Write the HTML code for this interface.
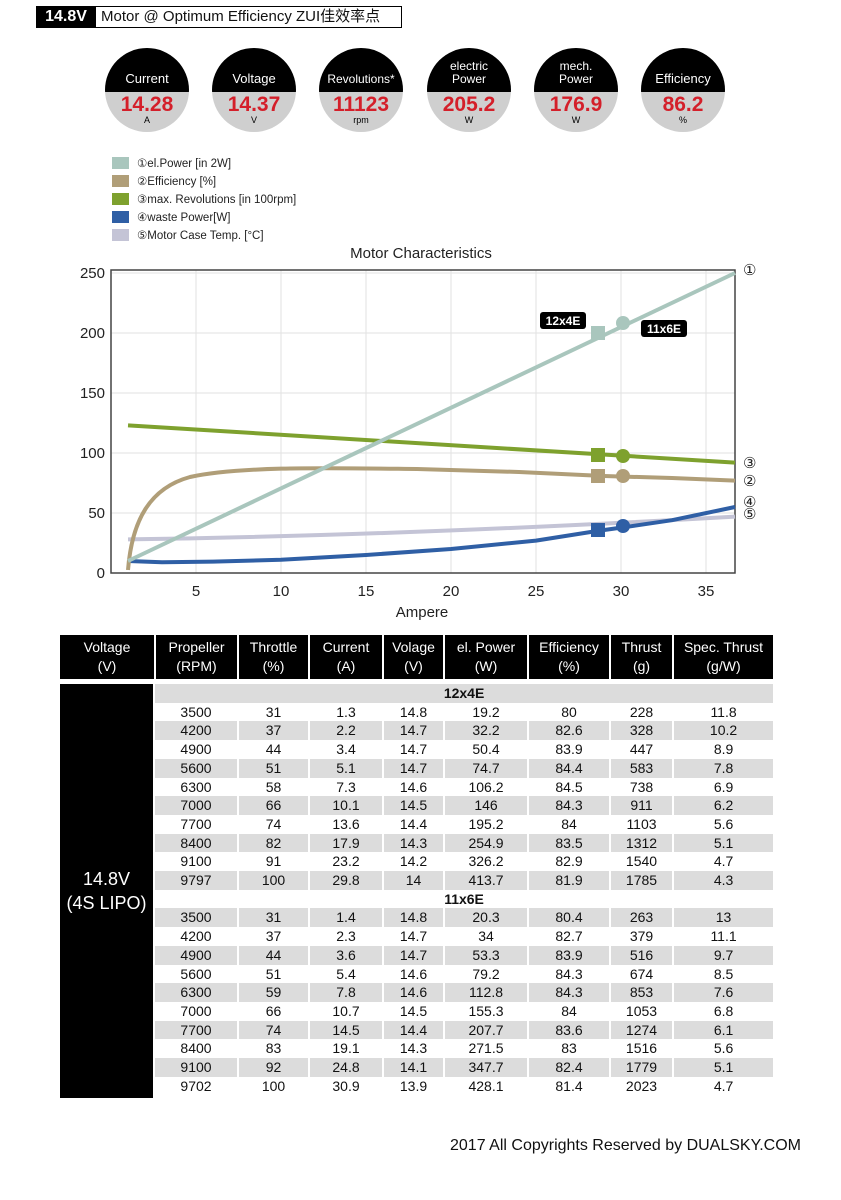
<!DOCTYPE html>
<html><head><meta charset="utf-8"><style>
body{margin:0;background:#fff;width:841px;height:1200px;position:relative;overflow:hidden;font-family:"Liberation Sans","Noto Sans CJK SC",sans-serif;}
.a{position:absolute}
table{border-collapse:collapse;table-layout:fixed;font-size:14px;color:#111}
td{text-align:center;padding:0;height:18.7px;line-height:18.7px;border-right:2px solid #fff;white-space:nowrap}
tr.g td{background:#dcdcdc}
.hd td{background:#000;color:#fff;height:44px;line-height:19px;font-size:14px;border-right:2px solid #fff}
</style></head><body>
<div class="a" style="left:36px;top:6px;width:364px;height:20px;border:1px solid #000;"></div>
<div class="a" style="left:36px;top:6px;width:60px;height:22px;background:#000;color:#fff;font-weight:bold;font-size:16px;line-height:22px;text-align:center">14.8V</div>
<div class="a" style="left:101px;top:6px;font-size:15px;line-height:22px;color:#111">Motor @ Optimum Efficiency ZUI佳效率点</div>

<svg class="a" style="left:0;top:0" width="841" height="1200" xmlns="http://www.w3.org/2000/svg" font-family="Liberation Sans, sans-serif">
<defs><clipPath id="c"><circle r="42"/></clipPath></defs>
<g font-size="13">
<g transform="translate(147,90)"><g clip-path="url(#c)"><rect x="-42" y="-42" width="84" height="44" fill="#000"/><rect x="-42" y="2" width="84" height="40" fill="#cfcfcf"/></g><text y="-7" fill="#fff" text-anchor="middle">Current</text><text y="21" fill="#d41f2a" font-size="21" font-weight="bold" text-anchor="middle">14.28</text><text y="33" font-size="9" text-anchor="middle">A</text></g>
<g transform="translate(254,90)"><g clip-path="url(#c)"><rect x="-42" y="-42" width="84" height="44" fill="#000"/><rect x="-42" y="2" width="84" height="40" fill="#cfcfcf"/></g><text y="-7" fill="#fff" text-anchor="middle">Voltage</text><text y="21" fill="#d41f2a" font-size="21" font-weight="bold" text-anchor="middle">14.37</text><text y="33" font-size="9" text-anchor="middle">V</text></g>
<g transform="translate(361,90)"><g clip-path="url(#c)"><rect x="-42" y="-42" width="84" height="44" fill="#000"/><rect x="-42" y="2" width="84" height="40" fill="#cfcfcf"/></g><text y="-7" fill="#fff" font-size="12" text-anchor="middle">Revolutions*</text><text y="21" fill="#d41f2a" font-size="21" font-weight="bold" text-anchor="middle">11123</text><text y="33" font-size="9" text-anchor="middle">rpm</text></g>
<g transform="translate(469,90)"><g clip-path="url(#c)"><rect x="-42" y="-42" width="84" height="44" fill="#000"/><rect x="-42" y="2" width="84" height="40" fill="#cfcfcf"/></g><text y="-20" fill="#fff" font-size="12" text-anchor="middle">electric</text><text y="-7" fill="#fff" font-size="12" text-anchor="middle">Power</text><text y="21" fill="#d41f2a" font-size="21" font-weight="bold" text-anchor="middle">205.2</text><text y="33" font-size="9" text-anchor="middle">W</text></g>
<g transform="translate(576,90)"><g clip-path="url(#c)"><rect x="-42" y="-42" width="84" height="44" fill="#000"/><rect x="-42" y="2" width="84" height="40" fill="#cfcfcf"/></g><text y="-20" fill="#fff" font-size="12" text-anchor="middle">mech.</text><text y="-7" fill="#fff" font-size="12" text-anchor="middle">Power</text><text y="21" fill="#d41f2a" font-size="21" font-weight="bold" text-anchor="middle">176.9</text><text y="33" font-size="9" text-anchor="middle">W</text></g>
<g transform="translate(683,90)"><g clip-path="url(#c)"><rect x="-42" y="-42" width="84" height="44" fill="#000"/><rect x="-42" y="2" width="84" height="40" fill="#cfcfcf"/></g><text y="-7" fill="#fff" text-anchor="middle">Efficiency</text><text y="21" fill="#d41f2a" font-size="21" font-weight="bold" text-anchor="middle">86.2</text><text y="33" font-size="9" text-anchor="middle">%</text></g>
</g>
<g font-size="11.5" fill="#222">
<rect x="112" y="157" width="17" height="12" fill="#a9c6bd"/><text x="137" y="167">①el.Power [in 2W]</text>
<rect x="112" y="175" width="17" height="12" fill="#b09e78"/><text x="137" y="185">②Efficiency [%]</text>
<rect x="112" y="193" width="17" height="12" fill="#7ea12e"/><text x="137" y="203">③max. Revolutions [in 100rpm]</text>
<rect x="112" y="211" width="17" height="12" fill="#2f5fa5"/><text x="137" y="221">④waste Power[W]</text>
<rect x="112" y="229" width="17" height="12" fill="#c4c4d6"/><text x="137" y="239">⑤Motor Case Temp. [°C]</text>
</g>
<text x="421" y="258" font-size="15" text-anchor="middle" fill="#222">Motor Characteristics</text>
<g stroke="#e2e2e2" stroke-width="1">
<line x1="196" y1="270" x2="196" y2="573"/><line x1="281" y1="270" x2="281" y2="573"/><line x1="366" y1="270" x2="366" y2="573"/><line x1="451" y1="270" x2="451" y2="573"/><line x1="536" y1="270" x2="536" y2="573"/><line x1="621" y1="270" x2="621" y2="573"/><line x1="706" y1="270" x2="706" y2="573"/>
<line x1="111" y1="513" x2="735" y2="513"/><line x1="111" y1="453" x2="735" y2="453"/><line x1="111" y1="393" x2="735" y2="393"/><line x1="111" y1="333" x2="735" y2="333"/><line x1="111" y1="273" x2="735" y2="273"/>
</g>
<rect x="111" y="270" width="624" height="303" fill="none" stroke="#444" stroke-width="1.5"/>
<g font-size="15" fill="#222" text-anchor="end">
<text x="105" y="578">0</text><text x="105" y="518">50</text><text x="105" y="458">100</text><text x="105" y="398">150</text><text x="105" y="338">200</text><text x="105" y="278">250</text>
</g>
<g font-size="15" fill="#222" text-anchor="middle">
<text x="196" y="596">5</text><text x="281" y="596">10</text><text x="366" y="596">15</text><text x="451" y="596">20</text><text x="536" y="596">25</text><text x="621" y="596">30</text><text x="706" y="596">35</text>
<text x="422" y="617">Ampere</text>
</g>
<g fill="none" stroke-width="4" stroke-linejoin="round">
<path d="M128,539.4 C300,537 500,530 735,516.6" stroke="#c4c4d6"/>
<polyline points="128,561 162,562.2 213,561.6 281,559.8 366,555 451,549 536,540.6 597,531 623,527.4 672,520.2 735,507" stroke="#2f5fa5"/>
<path d="M128,570 C132,520 150,488 190,477 C240,466 330,468 417,469 L519,472 L604,476 L672,478 L735,480.6" stroke="#b09e78"/>
<line x1="128" y1="425.4" x2="735" y2="462.6" stroke="#7ea12e"/>
<line x1="128" y1="561" x2="735" y2="273" stroke="#a9c6bd"/>
</g>
<rect x="591" y="326" width="14" height="14" fill="#a9c6bd"/><circle cx="623" cy="323" r="7" fill="#a9c6bd"/>
<rect x="591" y="448" width="14" height="14" fill="#7ea12e"/><circle cx="623" cy="456" r="7" fill="#7ea12e"/>
<rect x="591" y="469" width="14" height="14" fill="#b09e78"/><circle cx="623" cy="476" r="7" fill="#b09e78"/>
<rect x="591" y="523" width="14" height="14" fill="#2f5fa5"/><circle cx="623" cy="526" r="7" fill="#2f5fa5"/>
<rect x="540" y="312" width="46" height="17" rx="3" fill="#000"/><text x="563" y="325" fill="#fff" font-size="12" font-weight="bold" text-anchor="middle">12x4E</text>
<rect x="641" y="320" width="46" height="17" rx="3" fill="#000"/><text x="664" y="333" fill="#fff" font-size="12" font-weight="bold" text-anchor="middle">11x6E</text>
<g font-size="15" fill="#222">
<text x="743" y="275">①</text><text x="743" y="468">③</text><text x="743" y="486">②</text><text x="743" y="507">④</text><text x="743" y="519">⑤</text>
</g>
</svg>

<table class="a" style="left:60px;top:635px;width:714px">
<colgroup><col style="width:95px"><col style="width:83px"><col style="width:71px"><col style="width:74px"><col style="width:61px"><col style="width:84px"><col style="width:82px"><col style="width:63px"><col style="width:101px"></colgroup>
<tr class="hd"><td>Voltage<br>(V)</td><td>Propeller<br>(RPM)</td><td>Throttle<br>(%)</td><td>Current<br>(A)</td><td>Volage<br>(V)</td><td>el. Power<br>(W)</td><td>Efficiency<br>(%)</td><td>Thrust<br>(g)</td><td>Spec. Thrust<br>(g/W)</td></tr>
</table>
<div class="a" style="left:60px;top:684px;width:93px;height:414px;background:#000;color:#fff;font-size:18px;line-height:24px;text-align:center;display:flex;align-items:center;justify-content:center"><div>14.8V<br>(4S LIPO)</div></div>
<table class="a" style="left:155px;top:684px;width:619px">
<colgroup><col style="width:83px"><col style="width:71px"><col style="width:74px"><col style="width:61px"><col style="width:84px"><col style="width:82px"><col style="width:63px"><col style="width:101px"></colgroup>
<tr class="g"><td colspan="8" style="font-weight:bold">12x4E</td></tr>
<tr><td>3500</td><td>31</td><td>1.3</td><td>14.8</td><td>19.2</td><td>80</td><td>228</td><td>11.8</td></tr>
<tr class="g"><td>4200</td><td>37</td><td>2.2</td><td>14.7</td><td>32.2</td><td>82.6</td><td>328</td><td>10.2</td></tr>
<tr><td>4900</td><td>44</td><td>3.4</td><td>14.7</td><td>50.4</td><td>83.9</td><td>447</td><td>8.9</td></tr>
<tr class="g"><td>5600</td><td>51</td><td>5.1</td><td>14.7</td><td>74.7</td><td>84.4</td><td>583</td><td>7.8</td></tr>
<tr><td>6300</td><td>58</td><td>7.3</td><td>14.6</td><td>106.2</td><td>84.5</td><td>738</td><td>6.9</td></tr>
<tr class="g"><td>7000</td><td>66</td><td>10.1</td><td>14.5</td><td>146</td><td>84.3</td><td>911</td><td>6.2</td></tr>
<tr><td>7700</td><td>74</td><td>13.6</td><td>14.4</td><td>195.2</td><td>84</td><td>1103</td><td>5.6</td></tr>
<tr class="g"><td>8400</td><td>82</td><td>17.9</td><td>14.3</td><td>254.9</td><td>83.5</td><td>1312</td><td>5.1</td></tr>
<tr><td>9100</td><td>91</td><td>23.2</td><td>14.2</td><td>326.2</td><td>82.9</td><td>1540</td><td>4.7</td></tr>
<tr class="g"><td>9797</td><td>100</td><td>29.8</td><td>14</td><td>413.7</td><td>81.9</td><td>1785</td><td>4.3</td></tr>
<tr><td colspan="8" style="font-weight:bold">11x6E</td></tr>
<tr class="g"><td>3500</td><td>31</td><td>1.4</td><td>14.8</td><td>20.3</td><td>80.4</td><td>263</td><td>13</td></tr>
<tr><td>4200</td><td>37</td><td>2.3</td><td>14.7</td><td>34</td><td>82.7</td><td>379</td><td>11.1</td></tr>
<tr class="g"><td>4900</td><td>44</td><td>3.6</td><td>14.7</td><td>53.3</td><td>83.9</td><td>516</td><td>9.7</td></tr>
<tr><td>5600</td><td>51</td><td>5.4</td><td>14.6</td><td>79.2</td><td>84.3</td><td>674</td><td>8.5</td></tr>
<tr class="g"><td>6300</td><td>59</td><td>7.8</td><td>14.6</td><td>112.8</td><td>84.3</td><td>853</td><td>7.6</td></tr>
<tr><td>7000</td><td>66</td><td>10.7</td><td>14.5</td><td>155.3</td><td>84</td><td>1053</td><td>6.8</td></tr>
<tr class="g"><td>7700</td><td>74</td><td>14.5</td><td>14.4</td><td>207.7</td><td>83.6</td><td>1274</td><td>6.1</td></tr>
<tr><td>8400</td><td>83</td><td>19.1</td><td>14.3</td><td>271.5</td><td>83</td><td>1516</td><td>5.6</td></tr>
<tr class="g"><td>9100</td><td>92</td><td>24.8</td><td>14.1</td><td>347.7</td><td>82.4</td><td>1779</td><td>5.1</td></tr>
<tr><td>9702</td><td>100</td><td>30.9</td><td>13.9</td><td>428.1</td><td>81.4</td><td>2023</td><td>4.7</td></tr>
</table>
<div class="a" style="left:450px;top:1137px;font-size:16px;color:#111">2017 All Copyrights Reserved by DUALSKY.COM</div>
</body></html>
